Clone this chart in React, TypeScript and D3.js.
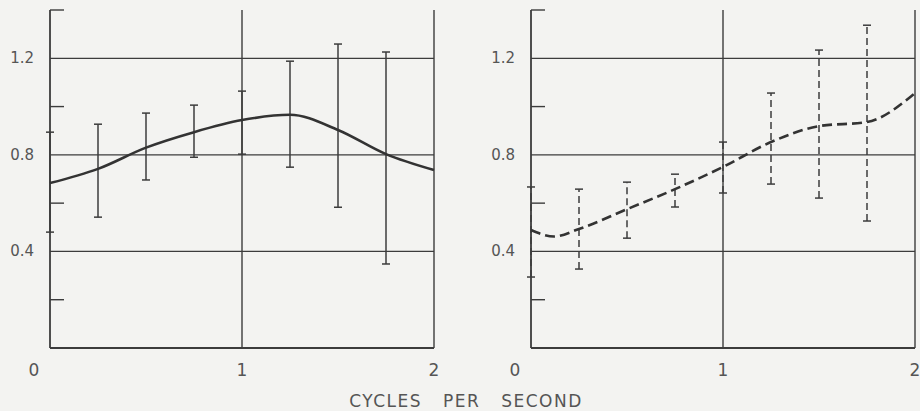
import React from "react";
import * as d3 from "d3";

// error bar frequencies (cycles per second)
const barFreqs = [0, 0.25, 0.5, 0.75, 1.0, 1.25, 1.5, 1.75];

// left panel (solid)
const leftLow = [0.48, 0.542, 0.696, 0.79, 0.803, 0.749, 0.583, 0.348];
const leftHigh = [0.894, 0.927, 0.973, 1.006, 1.064, 1.188, 1.259, 1.226];
const leftCurveX = [0, 0.25, 0.5, 0.75, 1.0, 1.25, 1.5, 1.75, 2.0];
const leftCurveY = [0.683, 0.742, 0.83, 0.894, 0.944, 0.966, 0.903, 0.803, 0.737];

// right panel (dashed)
const rightLow = [0.294, 0.327, 0.455, 0.584, 0.642, 0.679, 0.621, 0.526];
const rightHigh = [0.667, 0.658, 0.687, 0.72, 0.853, 1.056, 1.234, 1.337];
const rightCurveX = [0, 0.12, 0.25, 0.5, 0.75, 1.0, 1.25, 1.5, 1.75, 2.0];
const rightCurveY = [0.489, 0.462, 0.493, 0.575, 0.658, 0.75, 0.853, 0.919, 0.936, 1.056];

const gridY = [0.4, 0.8, 1.2];
const minorY = [0.2, 0.6, 1.0, 1.4];
const gridX = [1, 2];
const xTicks = ["0", "1", "2"];
const yTicks = ["0.4", "0.8", "1.2"];

const W = 920;
const H = 411;
const ink = "#3c3c3c";
const textCol = "#555";
const font = "'DejaVu Sans', sans-serif";

const y = d3.scaleLinear().domain([0, 1.4]).range([348, 10]);

type PanelProps = {
  x0: number;
  x1: number;
  low: number[];
  high: number[];
  cx: number[];
  cy: number[];
  dashed: boolean;
};

const Panel: React.FC<PanelProps> = ({ x0, x1, low, high, cx, cy, dashed }) => {
  const x = d3.scaleLinear().domain([0, 2]).range([x0, x1]);
  const line = d3
    .line<number>()
    .x((_, i) => x(cx[i]))
    .y((d) => y(d))
    .curve(d3.curveMonotoneX);

  return (
    <g>
      {/* horizontal grid */}
      {gridY.map((v) => (
        <line key={"g" + v} x1={x(0)} x2={x(2)} y1={y(v)} y2={y(v)} stroke={ink} strokeWidth={1.2} />
      ))}
      {/* vertical grid at 1 and 2 */}
      {gridX.map((v) => (
        <line key={"v" + v} x1={x(v)} x2={x(v)} y1={y(0)} y2={y(1.4)} stroke={ink} strokeWidth={1.4} />
      ))}
      {/* axes */}
      <line x1={x(0)} x2={x(0)} y1={y(0)} y2={y(1.4)} stroke={ink} strokeWidth={1.8} />
      <line x1={x(0)} x2={x(2)} y1={y(0)} y2={y(0)} stroke={ink} strokeWidth={1.8} />
      {minorY.map((v) => (
        <line key={"m" + v} x1={x(0)} x2={x(0) + 14} y1={y(v)} y2={y(v)} stroke={ink} strokeWidth={1.4} />
      ))}
      {/* tick labels */}
      {yTicks.map((t) => (
        <text key={"yt" + t} x={x(0) - 16} y={y(+t) + 5} textAnchor="end" fontSize={15} fill={textCol} fontFamily={font}>
          {t}
        </text>
      ))}
      {xTicks.map((t, i) => (
        <text
          key={"xt" + t}
          x={i === 0 ? x(0) - 16 : x(+t)}
          y={376}
          textAnchor="middle"
          fontSize={17}
          fill={textCol}
          fontFamily={font}
        >
          {t}
        </text>
      ))}
      {/* error bars */}
      {barFreqs.map((f, i) => (
        <g key={"e" + f} stroke={ink} strokeWidth={1.5}>
          <line x1={x(f)} x2={x(f)} y1={y(low[i])} y2={y(high[i])} strokeDasharray={dashed ? "7 4" : undefined} />
          <line x1={x(f) - 4} x2={x(f) + 4} y1={y(low[i])} y2={y(low[i])} />
          <line x1={x(f) - 4} x2={x(f) + 4} y1={y(high[i])} y2={y(high[i])} />
        </g>
      ))}
      {/* curve */}
      <path
        d={line(cy) ?? ""}
        fill="none"
        stroke="#333"
        strokeWidth={2.6}
        strokeDasharray={dashed ? "10 5" : undefined}
      />
    </g>
  );
};

const App: React.FC = () => {
  return (
    <svg width={W} height={H} style={{ position: "absolute", left: 0, top: 0, background: "#f3f3f1" }}>
      <Panel x0={50} x1={434} low={leftLow} high={leftHigh} cx={leftCurveX} cy={leftCurveY} dashed={false} />
      <Panel x0={531} x1={915} low={rightLow} high={rightHigh} cx={rightCurveX} cy={rightCurveY} dashed={true} />
      <text
        x={466}
        y={407}
        textAnchor="middle"
        fontSize={17}
        fill={textCol}
        fontFamily={font}
        letterSpacing={1.5}
        wordSpacing={14}
      >
        CYCLES PER SECOND
      </text>
    </svg>
  );
};

export default App;
